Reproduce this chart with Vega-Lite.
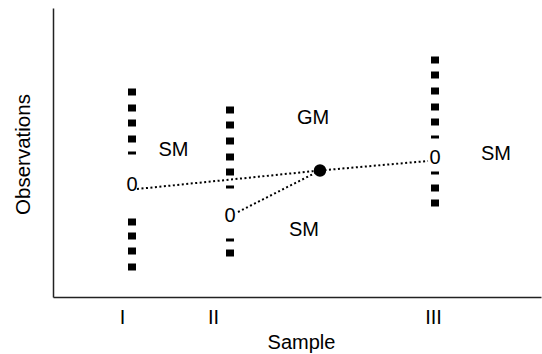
{
  "$schema": "https://vega.github.io/schema/vega-lite/v6.json",
  "width": 488,
  "height": 289,
  "autosize": "none",
  "padding": {"left": 53, "top": 8, "right": 1, "bottom": 57},
  "background": "white",
  "config": {"view": {"stroke": null}, "font": "Liberation Sans"},
  "datasets": {
    "marks": [
      {"x": 79, "y": 205, "kind": "sq"}, {"x": 79, "y": 189, "kind": "sq"}, {"x": 79, "y": 174, "kind": "sq"}, {"x": 79, "y": 158, "kind": "sq"},
      {"x": 79, "y": 144, "kind": "dash"},
      {"x": 79, "y": 75, "kind": "sq"}, {"x": 79, "y": 61, "kind": "sq"}, {"x": 79, "y": 46, "kind": "sq"}, {"x": 79, "y": 30, "kind": "sq"},
      {"x": 177, "y": 187, "kind": "sq"}, {"x": 177, "y": 172, "kind": "sq"}, {"x": 177, "y": 156, "kind": "sq"}, {"x": 177, "y": 140, "kind": "sq"}, {"x": 177, "y": 125, "kind": "sq"},
      {"x": 177, "y": 110, "kind": "dash"}, {"x": 177, "y": 57, "kind": "dash"},
      {"x": 177, "y": 44, "kind": "sq"},
      {"x": 382, "y": 237, "kind": "sq"}, {"x": 382, "y": 222, "kind": "sq"}, {"x": 382, "y": 206, "kind": "sq"}, {"x": 382, "y": 190, "kind": "sq"}, {"x": 382, "y": 175, "kind": "sq"},
      {"x": 382, "y": 160, "kind": "dash"}, {"x": 382, "y": 124, "kind": "dash"},
      {"x": 382, "y": 109, "kind": "sq"}, {"x": 382, "y": 94, "kind": "sq"}
    ],
    "zeros": [
      {"x": 79, "y": 112, "t": "0"},
      {"x": 177, "y": 81, "t": "0"},
      {"x": 382, "y": 139, "t": "0"}
    ],
    "labels": [
      {"x": 120.5, "y": 147, "t": "SM"},
      {"x": 260, "y": 179, "t": "GM"},
      {"x": 251, "y": 67, "t": "SM"},
      {"x": 443, "y": 143, "t": "SM"}
    ],
    "lines": [
      {"seg": "a", "o": 1, "x": 84, "y": 108}, {"seg": "a", "o": 2, "x": 267, "y": 126.5},
      {"seg": "b", "o": 1, "x": 185, "y": 85}, {"seg": "b", "o": 2, "x": 267, "y": 126.5},
      {"seg": "c", "o": 1, "x": 267, "y": 126.5}, {"seg": "c", "o": 2, "x": 375, "y": 136}
    ],
    "gm": [{"x": 267, "y": 126.5}]
  },
  "encoding": {
    "x": {
      "field": "x", "type": "quantitative",
      "scale": {"domain": [0, 488], "nice": false, "zero": false},
      "axis": {
        "title": "Sample", "titleFontSize": 20, "titleFontWeight": "normal", "titleColor": "black",
        "titleX": 248, "titleY": 51, "titleBaseline": "alphabetic",
        "values": [69, 160, 380],
        "labelExpr": "datum.value == 69 ? 'I' : datum.value == 160 ? 'II' : 'III'",
        "labelFontSize": 20, "labelColor": "black", "labelBaseline": "alphabetic", "labelPadding": 26,
        "ticks": false, "tickSize": 0, "grid": false,
        "domainColor": "#222", "domainWidth": 1.5
      }
    },
    "y": {
      "field": "y", "type": "quantitative",
      "scale": {"domain": [0, 289], "nice": false, "zero": false},
      "axis": {
        "title": "Observations", "titleFontSize": 20.5, "titleFontWeight": "normal", "titleColor": "black",
        "titleX": -24, "titleY": 146, "titleAngle": -90, "titleBaseline": "alphabetic",
        "values": [], "labels": false, "ticks": false, "tickSize": 0, "grid": false,
        "domainColor": "#222", "domainWidth": 1.5
      }
    }
  },
  "layer": [
    {
      "data": {"name": "lines"},
      "mark": {"type": "line", "color": "black", "strokeWidth": 2, "strokeDash": [2, 2.5], "strokeCap": "butt"},
      "encoding": {"detail": {"field": "seg"}, "order": {"field": "o"}}
    },
    {
      "data": {"name": "marks"},
      "transform": [{"filter": "datum.kind == 'sq'"}],
      "mark": {"type": "tick", "orient": "horizontal", "size": 8, "thickness": 7, "color": "black", "opacity": 1}
    },
    {
      "data": {"name": "marks"},
      "transform": [{"filter": "datum.kind == 'dash'"}],
      "mark": {"type": "tick", "orient": "horizontal", "size": 8, "thickness": 3, "color": "black", "opacity": 1}
    },
    {
      "data": {"name": "zeros"},
      "mark": {"type": "text", "fontSize": 20, "color": "black", "align": "center", "baseline": "middle"},
      "encoding": {"text": {"field": "t"}}
    },
    {
      "data": {"name": "labels"},
      "mark": {"type": "text", "fontSize": 20, "color": "black", "align": "center", "baseline": "middle"},
      "encoding": {"text": {"field": "t"}}
    },
    {
      "data": {"name": "gm"},
      "mark": {"type": "point", "shape": "circle", "filled": true, "size": 154, "color": "black", "opacity": 1}
    }
  ]
}
